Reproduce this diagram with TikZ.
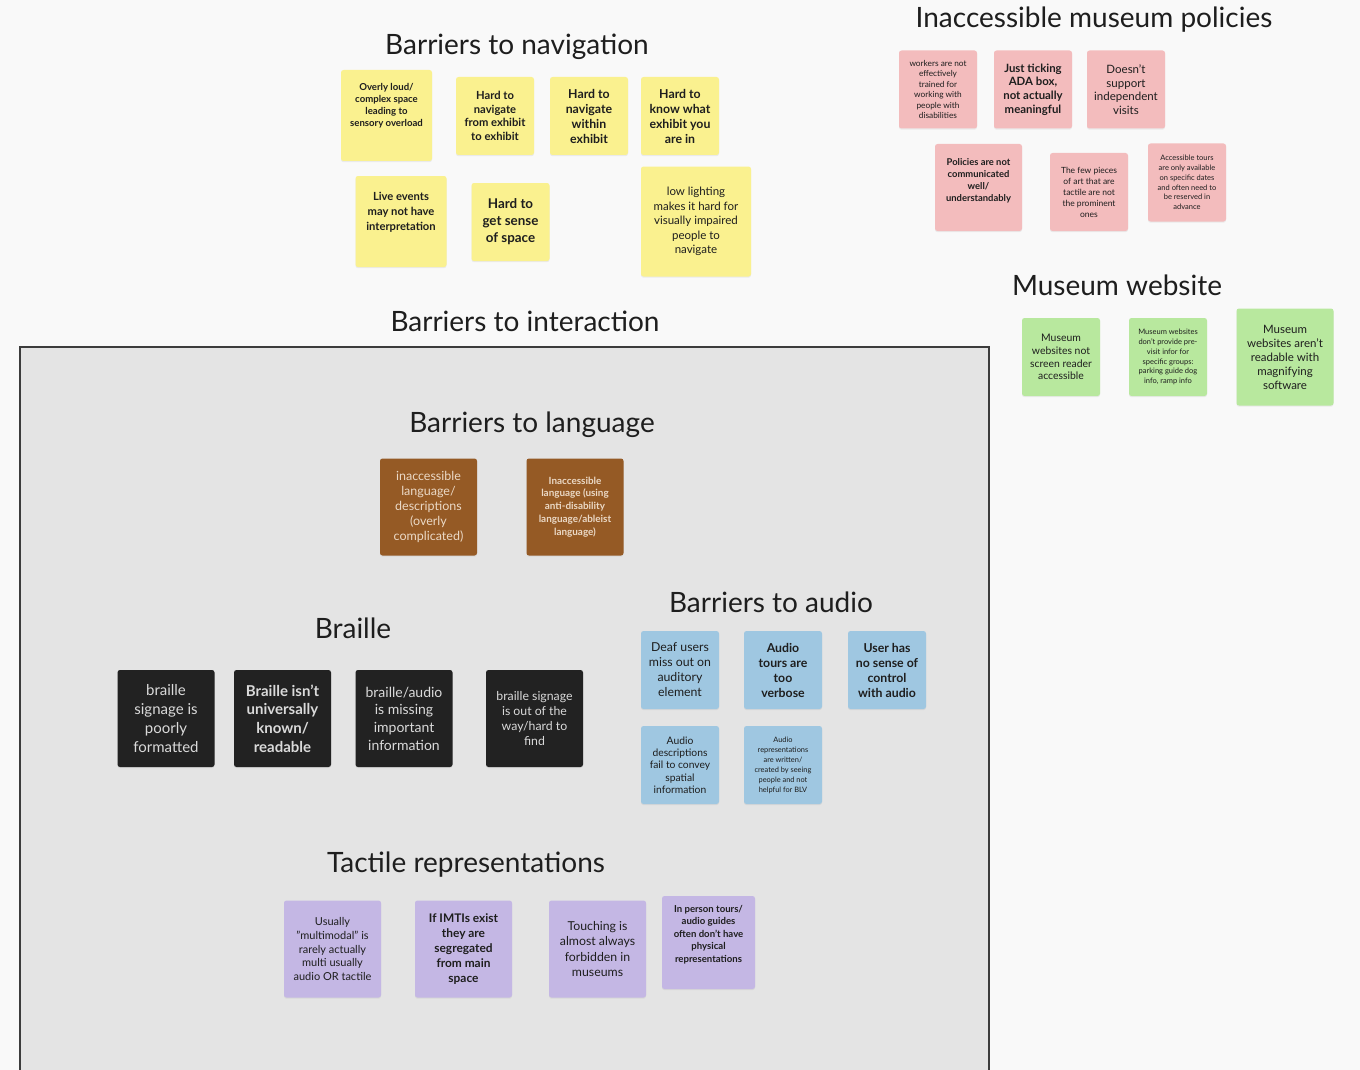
\documentclass[tikz,border=0pt]{standalone}
\usepackage{fontspec}
\setmainfont{Lato}
\usepackage{xcolor}
\usepackage{tikz}
\usetikzlibrary{shadows}

\definecolor{canvas}{HTML}{F9F9F9}
\definecolor{sectionbg}{HTML}{E4E4E4}
\definecolor{sectionline}{HTML}{3C3C3C}
\definecolor{inktext}{HTML}{1E1E1E}
\definecolor{navyellow}{HTML}{FAF18F}
\definecolor{policypink}{HTML}{F3BCBD}
\definecolor{webgreen}{HTML}{B8E89E}
\definecolor{langbrown}{HTML}{955A25}
\definecolor{langtext}{HTML}{EBD9C6}
\definecolor{braillegrey}{HTML}{222222}
\definecolor{brailletext}{HTML}{DADADA}
\definecolor{audioblue}{HTML}{9FC7E1}
\definecolor{tactilepurple}{HTML}{C4B7E4}

\newcommand{\fsz}[2]{\fontsize{#1}{#2}\selectfont}

\tikzset{
  heading/.style={font=\fsz{28}{32}\selectfont, text=inktext, inner sep=0pt},
  sticky/.style={minimum width=#1, minimum height=#1, inner sep=1pt,
    align=center, rounded corners=2.5pt, text=inktext,
    drop shadow={opacity=0.12, shadow xshift=0pt, shadow yshift=-1.2pt}},
  nav/.style={sticky=#1, fill=navyellow},
  policy/.style={sticky=#1, fill=policypink},
  web/.style={sticky=#1, fill=webgreen},
  lang/.style={sticky=#1, fill=langbrown, text=langtext},
  braille/.style={sticky=#1, fill=braillegrey, text=brailletext},
  audio/.style={sticky=#1, fill=audioblue},
  tactile/.style={sticky=#1, fill=tactilepurple},
}

\begin{document}
\begin{tikzpicture}[x=1pt, y=-1pt]
  \useasboundingbox[fill=canvas] (0,0) rectangle (1360,1070);
  % interaction area
  \draw[sectionline, line width=1.6pt, fill=sectionbg] (20,347) rectangle (989,1090);

  % Define headings
  \node[heading] (navtitle) at (517,47) {Barriers to navigation};
  \node[heading] (policytitle) at (1094,20) {Inaccessible museum policies};
  \node[heading] (webtitle) at (1117,285) {Museum website};
  \node[heading] (interacttitle) at (525,321) {Barriers to interaction};
  \node[heading] (langtitle) at (532,425) {Barriers to language};
  \node[heading] (brailletitle) at (353,628) {Braille};
  \node[heading] (audiotitle) at (771,602) {Barriers to audio};
  \node[heading] (tactiletitle) at (466,865) {Tactile representations};

  % navigation
  \node[nav=91, font=\fsz{9.6}{12}\bfseries] (nav1) at (386.5,115.5) {Overly loud/\\complex space\\leading to\\sensory overload\\[10pt]}; %
  \node[nav=78, font=\fsz{11.2}{13.6}\bfseries] (nav2) at (495,116) {Hard to\\navigate\\from exhibit\\to exhibit}; %
  \node[nav=78, font=\fsz{12.3}{15}\bfseries] (nav3) at (589,116) {Hard to\\navigate\\within\\exhibit}; %
  \node[nav=78, font=\fsz{12.3}{15}\bfseries] (nav4) at (680,116) {Hard to\\know what\\exhibit you\\are in}; %
  \node[nav=91, font=\fsz{11.2}{15}\bfseries] (nav5) at (401,221.5) {Live events\\may not have\\interpretation\\[6pt]}; %
  \node[nav=78, font=\fsz{13.4}{17}\bfseries] (nav6) at (510.5,222) {Hard to\\get sense\\of space}; %
  \node[nav=110, font=\fsz{11.5}{14.5}] (nav7) at (696,221.5) {low lighting\\makes it hard for\\visually impaired\\people to\\navigate}; %

  % policies
  \node[policy=78, font=\fsz{8.3}{10.4}] (pol1) at (938,89.5) {workers are not\\effectively\\trained for\\working with\\people with\\disabilities}; %
  \node[policy=78, font=\fsz{11.4}{13.7}\bfseries] (pol2) at (1033,89.5) {Just ticking\\ADA box,\\not actually\\meaningful}; %
  \node[policy=78, font=\fsz{11.5}{13.5}] (pol3) at (1126,89.5) {Doesn't\\support\\independent\\visits}; %
  \node[policy=87, font=\fsz{9.4}{12}\bfseries] (pol4) at (978.5,187.5) {Policies are not\\communicated\\well/\\understandably\\[3pt]}; %
  \node[policy=78, font=\fsz{8.5}{11}] (pol5) at (1089,192) {The few pieces\\of art that are\\tactile are not\\the prominent\\ones}; %
  \node[policy=78, font=\fsz{7.5}{9.8}] (pol6) at (1187,182.5) {Accessible tours\\are only available\\on specific dates\\and often need to\\be reserved in\\advance}; %

  % website
  \node[web=78, font=\fsz{10.4}{12.7}] (web1) at (1061,357) {Museum\\websites not\\screen reader\\accessible}; %
  \node[web=78, font=\fsz{7.5}{9.8}] (web2) at (1168,357) {Museum websites\\don't provide pre-\\visit infor for\\specific groups:\\parking guide dog\\info, ramp info}; %
  \node[web=97, font=\fsz{11.5}{14}] (web3) at (1285,357) {Museum\\websites aren't\\readable with\\magnifying\\software}; %

  % language
  \node[lang=97, font=\fsz{12.5}{15}] (lang1) at (428.5,507) {inaccessible\\language/\\descriptions\\(overly\\complicated)}; %
  \node[lang=97, font=\fsz{9.9}{12.8}\bfseries] (lang2) at (575,507) {Inaccessible\\language (using\\anti-disability\\language/ableist\\language)}; %

  % braille
  \node[braille=97, font=\fsz{15}{18.7}] (br1) at (166,718.5) {braille\\signage is\\poorly\\formatted}; %
  \node[braille=97, font=\fsz{15}{18.7}\bfseries] (br2) at (282.5,718.5) {Braille isn't\\universally\\known/\\readable}; %
  \node[braille=97, font=\fsz{14}{17.7}] (br3) at (404,718.5) {braille/audio\\is missing\\important\\information}; %
  \node[braille=97, font=\fsz{12.3}{15}] (br4) at (534.5,718.5) {braille signage\\is out of the\\way/hard to\\find}; %

  % audio
  \node[audio=78, font=\fsz{12.3}{15}] (aud1) at (680,670) {Deaf users\\miss out on\\auditory\\element}; %
  \node[audio=78, font=\fsz{12.3}{15}\bfseries] (aud2) at (783,670) {Audio\\tours are\\too\\verbose}; %
  \node[audio=78, font=\fsz{12.3}{15}\bfseries] (aud3) at (887,670) {User has\\no sense of\\control\\with audio}; %
  \node[audio=78, font=\fsz{10.3}{12.3}] (aud4) at (680,765) {Audio\\descriptions\\fail to convey\\spatial\\information}; %
  \node[audio=78, font=\fsz{7.4}{10}] (aud5) at (783,765) {Audio\\representations\\are written/\\created by seeing\\people and not\\helpful for BLV}; %

  % tactile
  \node[tactile=97, font=\fsz{11}{13.8}] (tac1) at (332.5,949) {Usually\\"multimodal" is\\rarely actually\\multi usually\\audio OR tactile}; %
  \node[tactile=97, font=\fsz{11.9}{15}\bfseries] (tac2) at (463.5,949) {If IMTIs exist\\they are\\segregated\\from main\\space}; %
  \node[tactile=97, font=\fsz{12.3}{15.3}] (tac3) at (597.5,949) {Touching is\\almost always\\forbidden in\\museums}; %
  \node[tactile=93, font=\fsz{9.6}{12.4}\bfseries] (tac4) at (708.5,942.5) {In person tours/\\audio guides\\often don't have\\physical\\representations\\[5pt]}; %
\end{tikzpicture}
\end{document}
